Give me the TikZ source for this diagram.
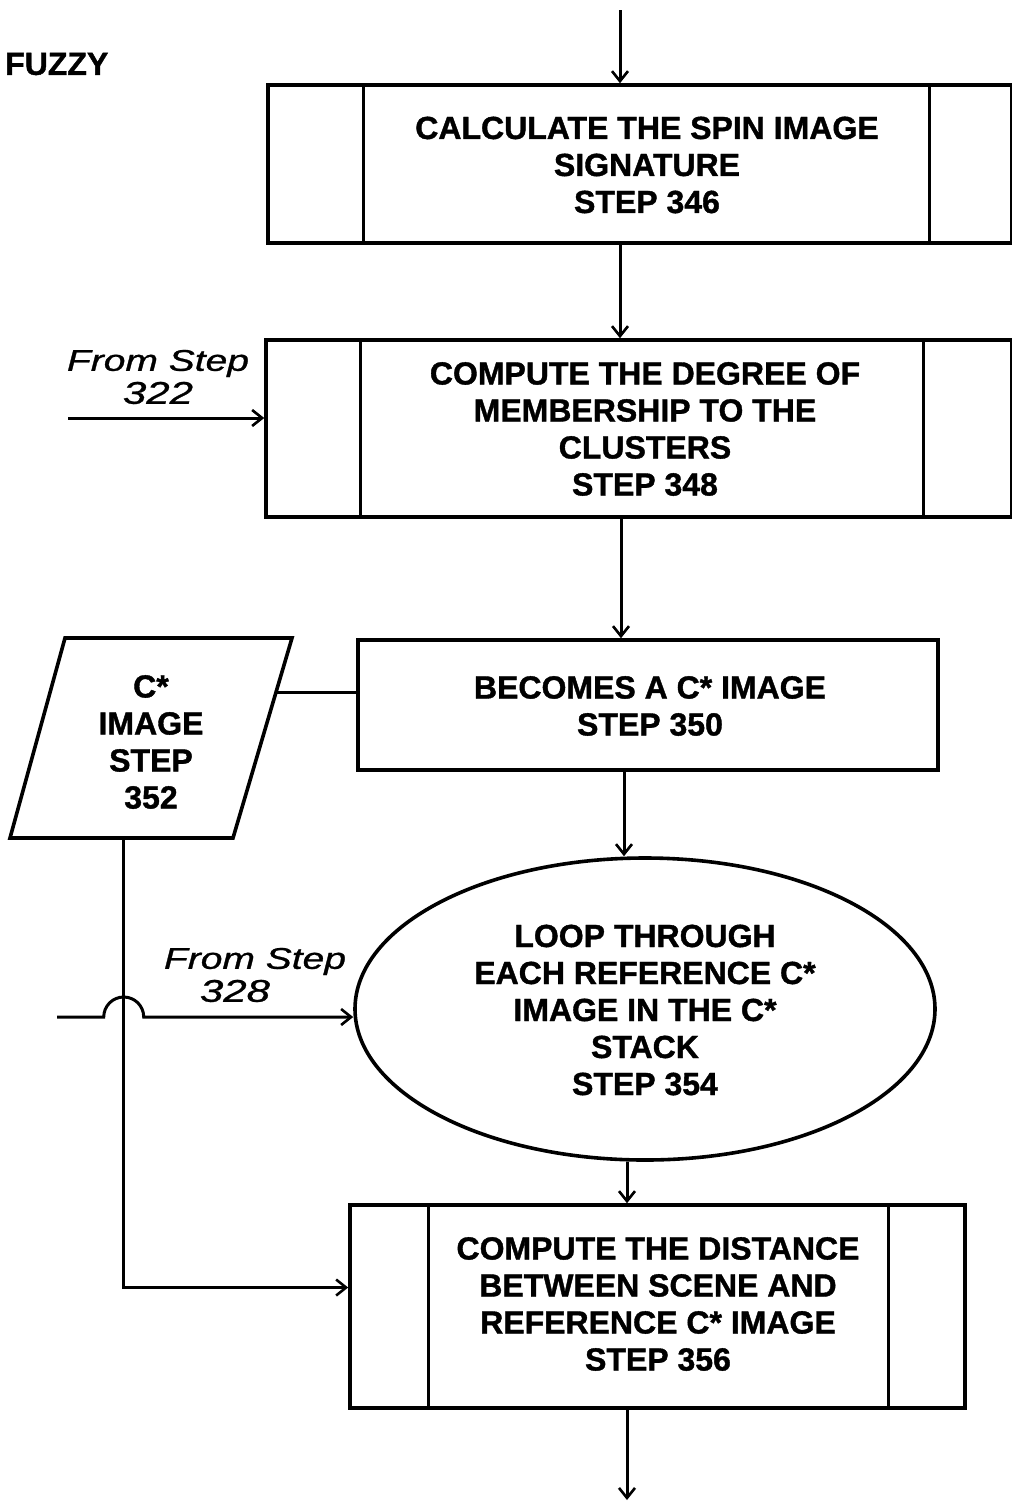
\documentclass[tikz,border=0pt]{standalone}
\usepackage{fontspec}
\setmainfont{Liberation Sans}[BoldFeatures={FakeBold=1.2},ItalicFeatures={FakeBold=0.8}]
\usetikzlibrary{arrows.meta,shapes.geometric,calc}
\begin{document}
\begin{tikzpicture}[x=1pt,y=-1pt,
  shapeline/.style={draw,line width=3.6pt,inner sep=0pt},
  inner/.style={line width=3pt},
  txt/.style={font=\bfseries\fontsize{32}{37}\selectfont,align=center,inner sep=0pt},
  hand/.style={font=\itshape\fontsize{30}{31}\selectfont,align=center,inner sep=0pt},
  conn/.style={line width=3pt},
  arr/.style={line width=3pt,-{Straight Barb[length=10pt,width=16pt,line width=2.6pt]}}
]
\useasboundingbox (0,0) rectangle (1012,1508);

% title fragment
\node[txt,anchor=west] (fz) at (5,64) {FUZZY};

% step 346
\node[shapeline,minimum width=744pt,minimum height=158pt] (b1) at (640,164) {};
\draw[inner] ($(b1.north west)+(97,0)$) -- ($(b1.south west)+(97,0)$);
\draw[inner] ($(b1.north east)+(-84,0)$) -- ($(b1.south east)+(-84,0)$);
\node[txt] (t1) at (647,165) {CALCULATE THE SPIN IMAGE\\SIGNATURE\\STEP 346};

% step 348
\node[shapeline,minimum width=746pt,minimum height=177pt] (b2) at (639,428.5) {};
\draw[inner] ($(b2.north west)+(96,0)$) -- ($(b2.south west)+(96,0)$);
\draw[inner] ($(b2.north east)+(-90,0)$) -- ($(b2.south east)+(-90,0)$);
\node[txt] (t2) at (645,429) {COMPUTE THE DEGREE OF\\MEMBERSHIP TO THE\\CLUSTERS\\STEP 348};

% step 350
\node[shapeline,minimum width=580pt,minimum height=130pt] (b3) at (648,705) {};
\node[txt] (t3) at (650,706) {BECOMES A C* IMAGE\\STEP 350};

% step 352 parallelogram
\coordinate (pA) at (10,838);
\coordinate (pB) at (233,838);
\coordinate (pC) at (292,638);
\coordinate (pD) at (65,638);
\draw[line width=3.6pt,line join=miter] (pA) -- (pB) -- (pC) -- (pD) -- cycle;
\node[txt] (p352) at (151,742) {C*\\IMAGE\\STEP\\352};
\coordinate (pr) at ($(pB)!0.73!(pC)$);
\coordinate (pbot) at ($(pA)!0.51!(pB)$);

% step 354 ellipse
\node[shapeline,ellipse,minimum width=580pt,minimum height=302pt] (ell) at (645,1009) {};
\node[txt] (t4) at (645,1010) {LOOP THROUGH\\EACH REFERENCE C*\\IMAGE IN THE C*\\STACK\\STEP 354};

% step 356
\node[shapeline,minimum width=615pt,minimum height=203pt] (b5) at (657.5,1306.5) {};
\draw[inner] ($(b5.north west)+(80,0)$) -- ($(b5.south west)+(80,0)$);
\draw[inner] ($(b5.north east)+(-78,0)$) -- ($(b5.south east)+(-78,0)$);
\node[txt] (t5) at (658,1304) {COMPUTE THE DISTANCE\\BETWEEN SCENE AND\\REFERENCE C* IMAGE\\STEP 356};

% handwritten labels
\node[hand] (h322) at (158,377) {\scalebox{1.3}[1]{From Step}\\[2pt]\scalebox{1.4}[1.05]{322}};
\node[hand] (h328) at (255,975) {\scalebox{1.3}[1]{From Step}\\[2pt]\hspace*{-40pt}\scalebox{1.4}[1.05]{328}};

% connectors
\coordinate (in) at (620,10);
\draw[arr] (in) -- (in |- b1.north);
\draw[arr] ([xshift=-20pt]b1.south) -- ([xshift=-20pt]b1.south |- b2.north);
\draw[arr] ([xshift=-18pt]b2.south) -- ([xshift=-18pt]b2.south |- b3.north);
\draw[arr] ([xshift=-24pt]b3.south) -- ([xshift=-24pt]b3.south |- ell.north);
\draw[arr] ([xshift=-18pt]ell.south) -- ([xshift=-18pt]ell.south |- b5.north);
\coordinate (out) at (627,1500);
\draw[arr] ([xshift=-30.5pt]b5.south) -- (out);

\coordinate (f322) at (68,418);
\draw[arr] (f322) -- (f322 -| b2.west);

\draw[conn] (pr) -- (pr -| b3.west);
\coordinate (b5j) at ([yshift=19pt]b5.west);
\draw[arr] (pbot) |- (b5j);

\coordinate (f328) at (57,1017);
\coordinate (hop) at (pbot |- f328);
\draw[arr] (f328) -- ([xshift=-20pt]hop) arc[start angle=180,end angle=0,radius=20pt] -- (f328 -| ell.west);
\end{tikzpicture}
\end{document}
